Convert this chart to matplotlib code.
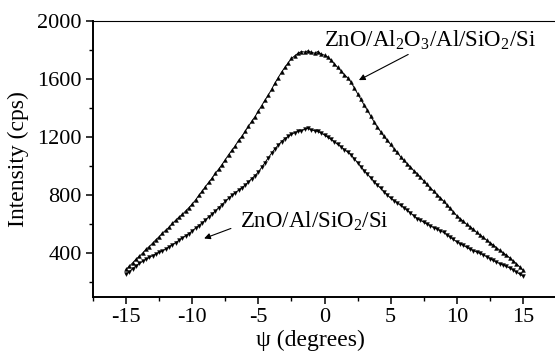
import matplotlib

matplotlib.use("Agg")

import matplotlib.pyplot as plt
import numpy as np
from matplotlib.ticker import MultipleLocator

plt.rcParams["font.family"] = ["Liberation Serif", "DejaVu Serif"]
plt.rcParams["mathtext.fontset"] = "custom"
plt.rcParams["mathtext.rm"] = "Liberation Serif"
plt.rcParams["mathtext.it"] = "Liberation Serif:italic"
plt.rcParams["axes.unicode_minus"] = False

# psi de -15 a 15 en pasos de 0.25 grados
psi = np.arange(-15.0, 15.001, 0.25)

# ZnO/Al2O3/Al/SiO2/Si
upper = [290, 312, 335, 360, 380, 402, 428, 447, 470, 494, 515, 540,
         560, 580, 607, 628, 650, 668, 692, 715, 740, 768, 800, 828,
         860, 890, 918, 952, 980, 1012, 1045, 1080, 1110, 1140, 1178, 1205,
         1240, 1275, 1310, 1342, 1380, 1418, 1455, 1490, 1530, 1572, 1610, 1648,
         1680, 1712, 1742, 1760, 1778, 1790, 1786, 1795, 1785, 1778, 1790, 1772,
         1765, 1752, 1730, 1705, 1680, 1658, 1630, 1610, 1580, 1540, 1500, 1462,
         1420, 1385, 1345, 1305, 1270, 1238, 1205, 1178, 1150, 1122, 1095, 1065,
         1040, 1018, 995, 970, 950, 925, 900, 875, 850, 830, 805, 784,
         760, 735, 710, 685, 660, 640, 620, 600, 585, 565, 545, 528,
         510, 492, 475, 458, 440, 422, 405, 388, 370, 350, 330, 308, 285]

# ZnO/Al/SiO2/Si
lower = [255, 275, 295, 314, 331, 345, 360, 372, 385, 396, 408, 418,
         430, 446, 460, 474, 490, 506, 522, 537, 555, 574, 592, 610,
         630, 652, 672, 692, 715, 736, 758, 780, 800, 818, 835, 852,
         870, 892, 915, 936, 960, 992, 1025, 1058, 1090, 1120, 1145, 1170,
         1190, 1205, 1220, 1232, 1240, 1245, 1255, 1262, 1250, 1245, 1240, 1228,
         1215, 1200, 1185, 1168, 1150, 1135, 1115, 1098, 1080, 1052, 1025, 998,
         970, 945, 920, 895, 870, 848, 825, 802, 780, 764, 748, 730,
         715, 697, 678, 660, 640, 628, 615, 602, 590, 578, 568, 556,
         545, 528, 512, 496, 480, 468, 455, 442, 430, 420, 410, 400,
         390, 378, 365, 352, 340, 330, 320, 310, 300, 287, 272, 258, 245]

fig = plt.figure(figsize=(5.55, 3.56), dpi=100)
ax = fig.add_axes([93 / 555, 59 / 356, 463 / 555, 276 / 356])

ax.plot(psi, upper, color="black", lw=0.7, marker="^", ms=2.8, mew=0.3)
ax.plot(psi, lower, color="black", lw=0.7, marker="v", ms=2.8, mew=0.3)

ax.set_xlim(-17.5, 17.5)
ax.set_ylim(100, 2000)
ax.xaxis.set_major_locator(MultipleLocator(5))
ax.xaxis.set_minor_locator(MultipleLocator(2.5))
ax.yaxis.set_minor_locator(MultipleLocator(200))
ax.set_yticks([400, 800, 1200, 1600, 2000])

ax.spines["right"].set_visible(False)
ax.spines["left"].set_linewidth(1.4)
ax.spines["bottom"].set_linewidth(1.4)
ax.spines["top"].set_linewidth(0.8)
ax.tick_params(which="major", direction="out", length=5, width=1.1,
               labelsize=16, top=False, right=False, pad=3)
ax.tick_params(which="minor", direction="out", length=3, width=1.0,
               top=False, right=False)

ax.set_xlabel("ψ (degrees)", fontsize=17, va="center")
ax.xaxis.set_label_coords(0.469, -0.156)
ax.set_ylabel("Intensity (cps)", fontsize=17, labelpad=6)

ax.annotate(r"ZnO/Al$_2$O$_3$/Al/SiO$_2$/Si", xy=(2.6, 1593), xytext=(0.0, 1869),
            fontsize=16.5, va="center", ha="left",
            arrowprops=dict(arrowstyle="-|>", color="black", lw=0.8,
                            mutation_scale=9, shrinkA=0, shrinkB=0,
                            relpos=(0.42, 0.0)))
ax.annotate(r"ZnO/Al/SiO$_2$/Si", xy=(-9.1, 503), xytext=(-6.4, 620),
            fontsize=16.5, va="center", ha="left",
            arrowprops=dict(arrowstyle="-|>", color="black", lw=0.8,
                            mutation_scale=9, shrinkA=0, shrinkB=0,
                            relpos=(-0.06, 0.2)))

fig.savefig("out.png", dpi=100)
